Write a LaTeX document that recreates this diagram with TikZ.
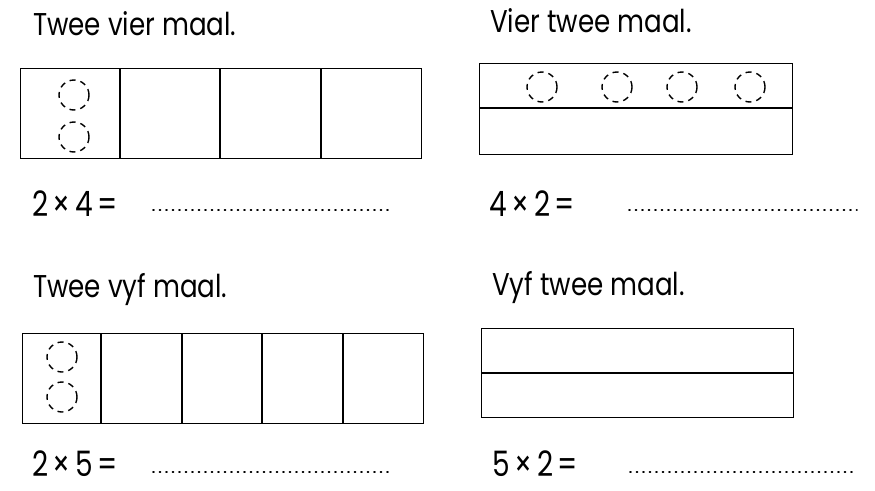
\documentclass[tikz,border=0pt]{standalone}
\usepackage{graphicx}
\usepackage{fontspec}
\setmainfont{Poppins}
\newcommand{\ttl}[1]{\scalebox{0.83}[1]{#1}}
\newcommand{\eqq}[1]{\scalebox{0.8}[1]{#1}}
\begin{document}
\begin{tikzpicture}[x=1pt,y=-1pt,
  title/.style={anchor=base west,inner sep=0pt,font=\fontsize{31.5}{32}\selectfont},
  eqn/.style={anchor=base west,inner sep=0pt,font=\fontsize{35}{36}\selectfont},
  frame/.style={draw,line width=1.1pt,rectangle,inner sep=0pt,anchor=north west},
  divider/.style={line width=1.1pt},
  dcirc/.style={draw,circle,dash pattern=on 6pt off 5pt,line width=1.4pt,minimum size=30pt,inner sep=0pt},
  answer/.style={line width=1.6pt,dash pattern=on 1pt off 5.5pt,line cap=round}
]
\useasboundingbox (0,0) rectangle (875,490);
% --- top left
\node[title] (t1) at (33,35) {\ttl{Twee vier maal.}};
\node[frame,minimum width=401pt,minimum height=90pt] (b1) at (20,68) {};
\foreach \x [count=\i] in {120,220,321}{
  \coordinate (b1t\i) at (\x,68); \coordinate (b1b\i) at (\x,158);
  \draw[divider] (b1t\i) -- (b1b\i);}
\node[dcirc] (c1a) at (74,95) {};
\node[dcirc] (c1b) at (74,137) {};
\node[eqn] (e1) at (32,216) {\eqq{2\,×\,4\,=}};
\coordinate (d1a) at (153,210); \coordinate (d1b) at (388,210);
\draw[answer] (d1a) -- (d1b);
% --- top right
\node[title] (t2) at (490,32) {\ttl{Vier twee maal.}};
\node[frame,minimum width=313pt,minimum height=91pt] (b2) at (479,63) {};
\coordinate (b2l) at (479,108); \coordinate (b2r) at (792,108);
\draw[divider] (b2l) -- (b2r);
\foreach \x [count=\i] in {542,617,682,750}{
  \node[dcirc] (c2\i) at (\x,87) {};}
\node[eqn] (e2) at (489,216) {\eqq{4\,×\,2\,=}};
\coordinate (d2a) at (629,210); \coordinate (d2b) at (857,210);
\draw[answer] (d2a) -- (d2b);
% --- bottom left
\node[title] (t3) at (33,297) {\ttl{Twee vyf maal.}};
\node[frame,minimum width=401pt,minimum height=90pt] (b3) at (22,333) {};
\foreach \x [count=\i] in {101,182,262,343}{
  \coordinate (b3t\i) at (\x,333); \coordinate (b3b\i) at (\x,423);
  \draw[divider] (b3t\i) -- (b3b\i);}
\node[dcirc] (c3a) at (62,357) {};
\node[dcirc] (c3b) at (62,397) {};
\node[eqn] (e3) at (32,476) {\eqq{2\,×\,5\,=}};
\coordinate (d3a) at (153,472); \coordinate (d3b) at (390,472);
\draw[answer] (d3a) -- (d3b);
% --- bottom right
\node[title] (t4) at (492,295) {\ttl{Vyf twee maal.}};
\node[frame,minimum width=312pt,minimum height=89pt] (b4) at (481,328) {};
\coordinate (b4l) at (481,373); \coordinate (b4r) at (793,373);
\draw[divider] (b4l) -- (b4r);
\node[eqn] (e4) at (492,476) {\eqq{5\,×\,2\,=}};
\coordinate (d4a) at (630,472); \coordinate (d4b) at (857,472);
\draw[answer] (d4a) -- (d4b);
\end{tikzpicture}
\end{document}
